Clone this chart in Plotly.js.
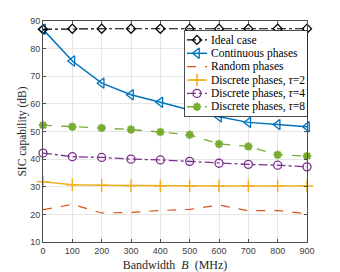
<!DOCTYPE html>
<html>
<head>
<meta charset="utf-8">
<script src="https://cdn.plot.ly/plotly-3.0.1.min.js"></script>
<style>html,body{margin:0;padding:0;background:#fff}#chart{width:340px;height:272px}</style>
</head>
<body>
<div id="chart"></div>
<script>
// ---- data ----
const bandwidth = [0, 100, 200, 300, 400, 500, 600, 700, 800, 900];
const ideal      = [87.0, 87.2, 87.2, 87.2, 87.2, 87.2, 87.2, 87.2, 87.2, 87.2];
const continuous = [87.0, 75.5, 67.5, 63.3, 60.6, 57.8, 55.3, 53.3, 52.5, 51.7];
const random     = [21.7, 23.6, 20.5, 20.7, 21.4, 21.8, 23.4, 21.3, 21.4, 20.2];
const discrete2  = [31.8, 30.7, 30.5, 30.4, 30.3, 30.3, 30.3, 30.3, 30.3, 30.3];
const discrete4  = [42.2, 40.9, 40.6, 40.0, 39.7, 39.2, 38.5, 38.1, 37.8, 37.2];
const discrete8  = [52.3, 51.7, 51.3, 50.7, 49.8, 48.8, 45.5, 44.6, 41.6, 41.1];
const seriesNames = ['Ideal case', 'Continuous phases', 'Random phases',
  'Discrete phases, <i>τ</i>=2', 'Discrete phases, <i>τ</i>=4', 'Discrete phases, <i>τ</i>=8'];
const yTicks = [10, 20, 30, 40, 50, 60, 70, 80, 90];
const xTicks = [0, 100, 200, 300, 400, 500, 600, 700, 800, 900];

// ---- styles ----
const styles = [
  {color: '#000000', dash: 'dashdot', width: 1.2, symbol: 'diamond-open', size: 7, mlw: 1.2},
  {color: '#0072BD', dash: 'solid', width: 1.5, symbol: 'triangle-left-open', size: 9, mlw: 1.3},
  {color: '#D95319', dash: 'dash', width: 1.2, symbol: null},
  {color: '#EDB120', dash: 'solid', width: 1.5, symbol: 'cross-thin-open', size: 9, mlw: 1.5},
  {color: '#7E2F8E', dash: 'dashdot', width: 1.3, symbol: 'circle-open', size: 8, mlw: 1.3},
  {color: '#77AC30', dash: 'dash', width: 1.3, symbol: 'asterisk-open', size: 7, mlw: 2.2}
];
const seriesValues = [ideal, continuous, random, discrete2, discrete4, discrete8];
const serif = 'Liberation Serif, Times New Roman, serif';

function markerOf(s) {
  return {symbol: s.symbol, size: s.size, color: s.color, line: {color: s.color, width: s.mlw}};
}

const traces = [];
// ---- main chart on x/y ----
for (let i = seriesValues.length - 1; i >= 0; i--) {
  const s = styles[i];
  const t = {
    x: bandwidth, y: seriesValues[i], type: 'scatter',
    mode: s.symbol ? 'lines+markers' : 'lines',
    name: seriesNames[i], showlegend: false, cliponaxis: false,
    line: {color: s.color, dash: s.dash, width: s.width},
    xaxis: 'x', yaxis: 'y'
  };
  if (s.symbol) t.marker = markerOf(s);
  traces.push(t);
}

// ---- custom legend box on inset axes x2/y2 (drawn above the main plot) ----
traces.push({
  x: [0, 1, 1, 0, 0], y: [0, 0, 1, 1, 0], type: 'scatter', mode: 'lines', fill: 'toself',
  fillcolor: '#ffffff', line: {width: 0, color: '#ffffff'}, showlegend: false, hoverinfo: 'skip',
  xaxis: 'x2', yaxis: 'y2'
});
const annotations = [];
const lx0 = 0.016, lx1 = 0.18, lxm = 0.098, ltx = 0.2;
for (let i = 0; i < seriesNames.length; i++) {
  const s = styles[i];
  const yy = 1 - (0.106 + i * 0.157);
  traces.push({
    x: [lx0, lx1], y: [yy, yy], type: 'scatter', mode: 'lines', showlegend: false,
    hoverinfo: 'skip', line: {color: s.color, dash: s.dash, width: s.width},
    xaxis: 'x2', yaxis: 'y2'
  });
  if (s.symbol) {
    traces.push({
      x: [lxm], y: [yy], type: 'scatter', mode: 'markers', showlegend: false, hoverinfo: 'skip',
      marker: markerOf(s), xaxis: 'x2', yaxis: 'y2'
    });
  }
  annotations.push({
    xref: 'x2', yref: 'y2', x: ltx, y: yy, xanchor: 'left', yanchor: 'middle',
    text: seriesNames[i], showarrow: false,
    font: {family: serif, size: 11.5, color: '#000'}
  });
}

const axisCommon = {
  showline: true, linecolor: '#4d4d4d', linewidth: 1, mirror: 'ticks',
  ticks: 'inside', ticklen: 3, tickcolor: '#4d4d4d', tickwidth: 1,
  showgrid: true, gridcolor: '#e6e6e6', gridwidth: 1, zeroline: false,
  tickfont: {family: 'Liberation Sans, Arial, sans-serif', size: 9, color: '#404040'}
};

const layout = {
  width: 340, height: 272,
  margin: {l: 43, r: 33, t: 21, b: 30},
  paper_bgcolor: '#fff', plot_bgcolor: '#fff',
  showlegend: false,
  xaxis: Object.assign({}, axisCommon, {
    range: [0, 900], tickvals: xTicks, domain: [0, 1], anchor: 'y',
    title: {text: 'Bandwidth&nbsp;&nbsp;<i>B</i>&nbsp;&nbsp;(MHz)', standoff: 6,
      font: {family: serif, size: 12, color: '#262626'}}
  }),
  yaxis: Object.assign({}, axisCommon, {
    range: [10, 90], tickvals: yTicks, domain: [0, 1], anchor: 'x', ticklabelstandoff: 0,
    title: {text: 'SIC capability (dB)', standoff: 1,
      font: {family: serif, size: 11.5, color: '#262626'}}
  }),
  xaxis2: {domain: [0.538, 1.0], range: [0, 1], anchor: 'y2', showline: true, mirror: true,
    linecolor: '#222', linewidth: 0.8, ticks: '', showticklabels: false, showgrid: false, zeroline: false, fixedrange: true},
  yaxis2: {domain: [0.57, 0.955], range: [0, 1], anchor: 'x2', showline: true, mirror: true,
    linecolor: '#222', linewidth: 0.8, ticks: '', showticklabels: false, showgrid: false, zeroline: false, fixedrange: true},
  annotations: annotations
};

Plotly.newPlot('chart', traces, layout, {displayModeBar: false, staticPlot: true});
</script>
</body>
</html>
